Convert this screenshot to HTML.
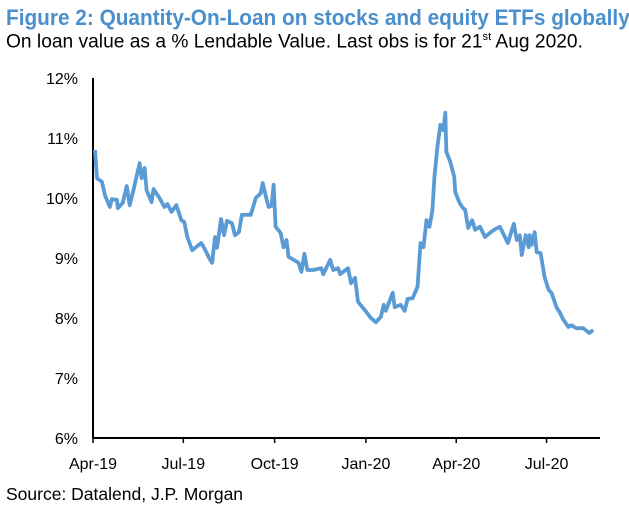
<!DOCTYPE html>
<html><head><meta charset="utf-8"><style>
body{margin:0;background:#fff;width:629px;height:523px;overflow:hidden;font-family:"Liberation Sans Narrow","Liberation Sans",sans-serif}
.t{position:absolute;left:6px;top:5px;font-size:22px;font-weight:bold;color:#4b8fcc;white-space:nowrap;transform:scaleX(0.945);transform-origin:0 0}
.s{position:absolute;left:6px;top:31px;font-size:19px;color:#000;white-space:nowrap;font-family:"Liberation Sans",sans-serif;transform:scaleX(1.01);transform-origin:0 0}
.src{position:absolute;left:6px;top:484px;font-size:17.5px;color:#000;white-space:nowrap;font-family:"Liberation Sans",sans-serif}
svg{position:absolute;left:0;top:0}
</style></head><body>
<div class="t">Figure 2: Quantity-On-Loan on stocks and equity ETFs globally</div>
<div class="s">On loan value as a % Lendable Value. Last obs is for 21<sup style="font-size:11px">st</sup> Aug 2020.</div>
<svg id="c" width="629" height="523"></svg>
<div class="src">Source: Datalend, J.P. Morgan</div>
<script>
const days=[2,4,9,12,17,19,24,25,30,34,37,41,47,49,52,54,59,61,67,72,75,79,84,89,92,95,100,109,112,117,120,123,125,129,132,135,140,143,147,150,159,164,169,171,175,177,180,182,184,189,192,195,197,202,207,210,213,216,222,230,232,239,242,247,249,257,260,264,267,274,280,285,290,293,295,302,304,310,314,317,322,327,330,333,336,339,342,344,347,350,353,355,356,360,364,365,369,372,375,378,382,385,390,395,400,405,410,418,424,427,430,432,436,439,440,442,445,447,451,455,459,462,467,470,474,479,482,487,494,500,504];
const vals=[10.8,10.33,10.27,10.05,9.85,9.98,9.97,9.83,9.92,10.2,9.88,10.15,10.58,10.33,10.5,10.13,9.93,10.15,10.0,9.85,9.9,9.77,9.88,9.63,9.6,9.35,9.13,9.25,9.17,9.0,8.92,9.35,9.17,9.65,9.38,9.62,9.58,9.38,9.43,9.72,9.72,10.0,10.08,10.25,9.97,9.85,9.87,10.22,9.52,9.42,9.18,9.3,9.02,8.97,8.92,8.77,9.07,8.8,8.8,8.83,8.73,8.97,8.8,8.83,8.73,8.83,8.58,8.67,8.27,8.13,8.0,7.93,8.02,8.22,8.12,8.42,8.18,8.22,8.12,8.32,8.33,8.52,9.25,9.18,9.63,9.52,9.8,10.35,10.85,11.22,11.13,11.42,10.77,10.6,10.35,10.1,9.93,9.85,9.8,9.5,9.63,9.47,9.52,9.35,9.42,9.48,9.52,9.25,9.57,9.3,9.38,9.05,9.38,9.18,9.38,9.22,9.43,9.1,9.08,8.68,8.47,8.42,8.18,8.1,7.97,7.85,7.88,7.83,7.83,7.75,7.8];
const yTicks=[6,7,8,9,10,11,12];
const xTickDays=[0,91,183,275,366,457];
const xTickLabels=["Apr-19","Jul-19","Oct-19","Jan-20","Apr-20","Jul-20"];
const NS="http://www.w3.org/2000/svg",svg=document.getElementById('c');
const X0=93,Y0=438,xs=d=>X0+d*0.9925,ys=v=>Y0-(v-6)*60;
function mk(t,a){const e=document.createElementNS(NS,t);for(const k in a)e.setAttribute(k,a[k]);svg.appendChild(e);return e;}
yTicks.forEach(v=>{const e=mk('text',{x:78,y:ys(v)+6,'text-anchor':'end','font-size':16,'font-family':'Liberation Sans, sans-serif'});e.textContent=v+'%';

});
xTickDays.forEach((d,i)=>{const t=mk('line',{x1:xs(d),x2:xs(d),y1:Y0,y2:Y0+5,stroke:'#000','stroke-width':1.5});


const e=mk('text',{x:xs(d),y:469,'text-anchor':'middle','font-size':16,'font-family':'Liberation Sans, sans-serif'});e.textContent=xTickLabels[i];

});
const ya=mk('line',{x1:X0,x2:X0,y1:ys(12),y2:Y0,stroke:'#000','stroke-width':2});


const xa=mk('line',{x1:X0,x2:600,y1:Y0,y2:Y0,stroke:'#000','stroke-width':2});


const p=mk('polyline',{points:days.map((d,i)=>xs(d)+','+ys(vals[i])).join(' '),fill:'none',stroke:'#5b9bd5','stroke-width':3.8,'stroke-linejoin':'round'});


</script>
</body></html>
